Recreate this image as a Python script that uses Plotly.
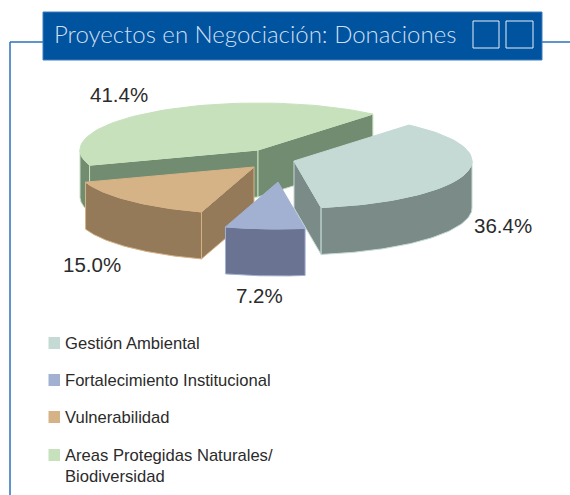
import numpy as np
import plotly.graph_objects as go

# ---------- data ----------
categories = ["Gestión Ambiental", "Fortalecimiento Institucional", "Vulnerabilidad",
              "Areas Protegidas Naturales/<br>Biodiversidad"]
values = [36.4, 7.2, 15.0, 41.4]
title = "Proyectos en Negociación: Donaciones"

# ---------- styles / layout ----------
top_colors = ["#c5dad5", "#a2b1d1", "#d5b387", "#c8e1bd"]
side_colors = ["#7a8b88", "#6a7391", "#957a5a", "#718c70"]
apex = [(294, 161), (278, 182), (254, 167), (258, 150)]   # exploded slice tips, px
label_pos = [(503, 225), (259, 295), (92, 264), (119, 94)]
legend_y = [343, 380, 417, 455]
LEGEND_LINE_GAP = 21
RX, RY, DEPTH = 178, 47, 47
START_DEG = 49.8
BLUE, LINE = "#00539f", "#2a72b8"
TEXT = "#2b2b2b"
FONT = "Liberation Sans"

# slice angular spans, clockwise from the start angle
spans = []
a = START_DEG
for v in values:
    spans.append((a, a - v * 3.6))
    a -= v * 3.6


def arc(cx, cy, t0, t1, n=60):
    t = np.radians(np.linspace(t0, t1, n))
    return cx + RX * np.cos(t), cy - RY * np.sin(t)


fig = go.Figure()


def poly(xs, ys, fill, line):
    fig.add_trace(go.Scatter(x=list(xs), y=list(ys), mode="lines", fill="toself",
                             fillcolor=fill, line=dict(color=line, width=1),
                             hoverinfo="skip", showlegend=False))


def radial_wall(cx, cy, t, fill, line):
    x, y = arc(cx, cy, t, t, 1)
    poly([cx, x[0], x[0], cx, cx], [cy, y[0], y[0] + DEPTH, cy + DEPTH, cy], fill, line)


def outer_wall(cx, cy, t0, t1, fill, line):
    x, y = arc(cx, cy, t0, t1)
    poly(np.r_[x, x[::-1], x[0]], np.r_[y, y[::-1] + DEPTH, y[0]], fill, line)


def top_face(cx, cy, t0, t1, fill):
    x, y = arc(cx, cy, t0, t1)
    poly(np.r_[cx, x, cx], np.r_[cy, y, cy], fill, fill)


def slice_spec(i):
    cx, cy = apex[i]
    t0, t1 = spans[i]
    return cx, cy, t0, t1, top_colors[i], side_colors[i]


# Areas Protegidas (back slice): outer wall visible from the far-left point to where the slice begins
cx, cy, t0, t1, top, side = slice_spec(3)
radial_wall(cx, cy, t0, side, top)
radial_wall(cx, cy, t1, side, top)
outer_wall(cx, cy, -180, t0, side, top)
top_face(cx, cy, t0, t1, top)

# Gestión Ambiental
cx, cy, t0, t1, top, side = slice_spec(0)
radial_wall(cx, cy, t1, side, top)
outer_wall(cx, cy, 0, t1, side, top)
top_face(cx, cy, t0, t1, top)

# Vulnerabilidad
cx, cy, t0, t1, top, side = slice_spec(2)
radial_wall(cx, cy, t0, side, top)
outer_wall(cx, cy, t0, t1, side, top)
top_face(cx, cy, t0, t1, top)

# Fortalecimiento Institucional
cx, cy, t0, t1, top, side = slice_spec(1)
outer_wall(cx, cy, t0, t1, side, top)
top_face(cx, cy, t0, t1, top)

shapes = [
    dict(type="line", x0=10, x1=43, y0=42, y1=42, line=dict(color=LINE, width=1.5)),
    dict(type="line", x0=10, x1=10, y0=42, y1=495, line=dict(color=LINE, width=1.5)),
    dict(type="line", x0=542, x1=570, y0=42, y1=42, line=dict(color=LINE, width=1.5)),
    dict(type="rect", x0=43, x1=542, y0=12, y1=60, fillcolor=BLUE, line=dict(color="#3f7fbf", width=1)),
    dict(type="rect", x0=473, x1=499, y0=21, y1=48, line=dict(color="#e8f0f8", width=1)),
    dict(type="rect", x0=506, x1=533, y0=21, y1=48, line=dict(color="#e8f0f8", width=1)),
]
annotations = [dict(x=52, y=33, text=title, showarrow=False, xanchor="left", yanchor="middle",
                    font=dict(family="Lato", size=24, color="#cfdfef", weight=300))]

for v, (x, y) in zip(values, label_pos):
    annotations.append(dict(x=x, y=y, text=f"{v:.1f}%", showarrow=False, xanchor="center",
                            yanchor="middle", font=dict(family=FONT, size=20.5, color=TEXT)))

for cat, col, y in zip(categories, top_colors, legend_y):
    shapes.append(dict(type="rect", x0=48.5, x1=60, y0=y - 6, y1=y + 6, fillcolor=col, line=dict(width=0)))
    for k, part in enumerate(cat.split("<br>")):
        annotations.append(dict(x=63, y=y + k * LEGEND_LINE_GAP, text=part, showarrow=False, xanchor="left",
                                yanchor="middle", align="left",
                                font=dict(family=FONT, size=16.6, color=TEXT)))

fig.update_layout(
    width=570, height=495, margin=dict(l=0, r=0, t=0, b=0),
    paper_bgcolor="white", plot_bgcolor="white", showlegend=False,
    xaxis=dict(range=[0, 570], visible=False, fixedrange=True),
    yaxis=dict(range=[495, 0], visible=False, fixedrange=True),
    shapes=shapes, annotations=annotations,
)
fig.write_html("out.html", post_script="document.body.style.margin='0';", config={"displayModeBar": False})
